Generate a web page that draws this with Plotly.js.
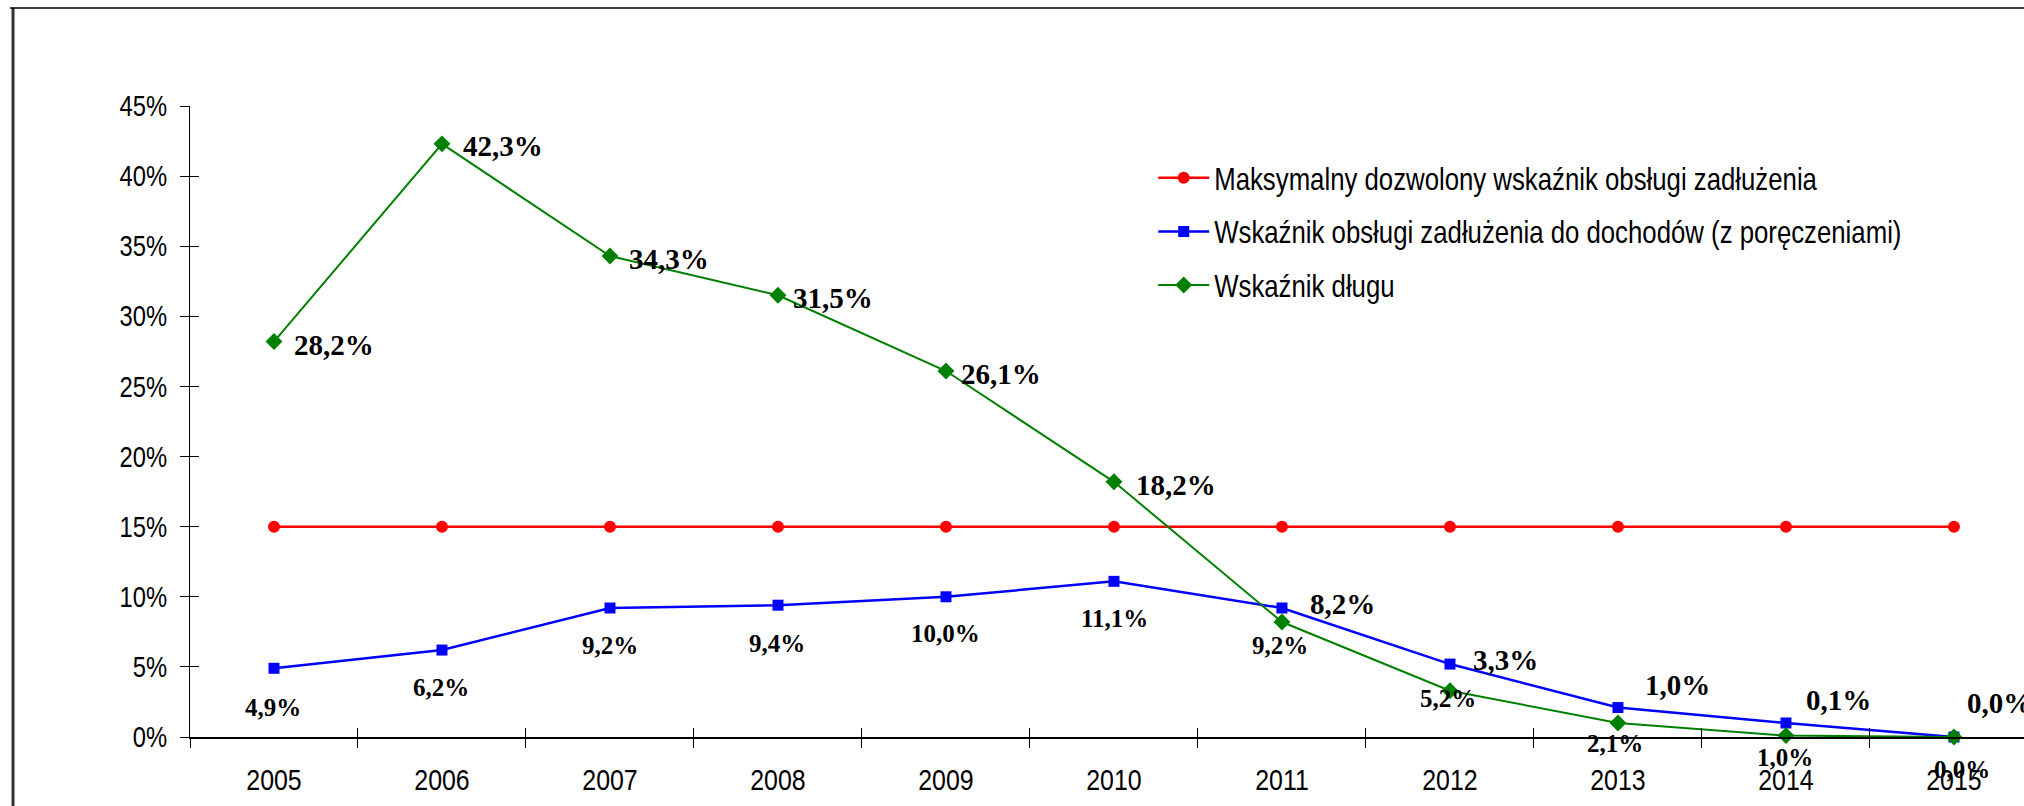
<!DOCTYPE html>
<html>
<head>
<meta charset="utf-8">
<script src="https://cdn.plot.ly/plotly-3.0.1.min.js"></script>
<style>html,body{margin:0;padding:0;background:#fff;}#chart{width:2024px;height:806px;}</style>
</head>
<body>
<div id="chart"></div>
<script>
// ---- data ----
const years = ['2005','2006','2007','2008','2009','2010','2011','2012','2013','2014','2015'];
const maxAllowed = [15,15,15,15,15,15,15,15,15,15,15];
const debtService = [4.9,6.2,9.2,9.4,10.0,11.1,9.2,5.2,2.1,1.0,0.0];
const debtRatio = [28.2,42.3,34.3,31.5,26.1,18.2,8.2,3.3,1.0,0.1,0.0];
const seriesNames = [
  'Maksymalny dozwolony wskaźnik obsługi zadłużenia',
  'Wskaźnik obsługi zadłużenia do dochodów (z poręczeniami)',
  'Wskaźnik długu'
];
const yTickVals = [0,5,10,15,20,25,30,35,40,45];
const yTickText = ['0%','5%','10%','15%','20%','25%','30%','35%','40%','45%'];

// ---- label placement (pixels, separate from data) ----
const greenDx = [18,19,17,13,13,20,26,21,25,18,11];
const greenDy = [3,2,3,3,3,3,-18,-31,-38,-36,-34];
const blueDx = [-1,-1,0,-1,0,1,-2,-2,-3,-1,8];
const blueDy = [39,37,37,38,37,37,37,34,36,35,32];

const fmt = v => v.toFixed(1).replace('.', ',') + '%';
const sans = "'Liberation Sans', Arial, sans-serif";
const serif = "'Liberation Serif', 'Times New Roman', serif";

const traces = [
  {x: years, y: maxAllowed, name: seriesNames[0], type: 'scatter', mode: 'lines+markers',
   line: {color: '#FF0000', width: 2.5}, marker: {symbol: 'circle', size: 12, color: '#FF0000'},
   cliponaxis: false, legendgroup: 'a'},
  {x: years, y: debtService, name: seriesNames[1], type: 'scatter', mode: 'lines+markers',
   line: {color: '#0000FF', width: 2.5}, marker: {symbol: 'square', size: 11, color: '#0000FF'},
   cliponaxis: false, legendgroup: 'b'},
  {x: years, y: debtRatio, name: seriesNames[2], type: 'scatter', mode: 'lines+markers',
   line: {color: '#008000', width: 2}, marker: {symbol: 'diamond', size: 13, color: '#008000'},
   cliponaxis: false, legendgroup: 'c'},
  {x: years, y: maxAllowed, xaxis: 'x2', yaxis: 'y2', type: 'scatter', mode: 'none',
   showlegend: false, hoverinfo: 'skip'}
];

const annotations = [];
years.forEach((yr, i) => {
  annotations.push({x: i, y: debtRatio[i], xref: 'x', yref: 'y', text: fmt(debtRatio[i]),
    showarrow: false, xanchor: 'left', yanchor: 'middle', xshift: greenDx[i], yshift: -greenDy[i],
    font: {family: serif, size: 29, color: '#000', weight: 'bold'}});
  annotations.push({x: i, y: debtService[i], xref: 'x', yref: 'y', text: fmt(debtService[i]),
    showarrow: false, xanchor: 'center', yanchor: 'middle', xshift: blueDx[i], yshift: -blueDy[i],
    font: {family: serif, size: 25, color: '#000', weight: 'bold'}});
});

const xr = [-0.5, 10.417];
const layout = {
  width: 2024, height: 806,
  margin: {l: 190, r: 0, t: 106, b: 69, pad: 0, autoexpand: false},
  paper_bgcolor: '#fff', plot_bgcolor: '#fff',
  showlegend: true,
  legend: {x: 0.5252, y: 0.928, xanchor: 'left', yanchor: 'top', traceorder: 'grouped',
    tracegroupgap: 11, itemwidth: 51, bgcolor: 'rgba(0,0,0,0)',
    font: {family: sans, size: 30.5, color: '#000'}},
  xaxis: {type: 'category', range: xr, tickson: 'boundaries', ticks: 'outside', ticklen: 9,
    tickcolor: '#000', tickwidth: 1, showline: true, linecolor: '#000', linewidth: 1.5,
    showgrid: false, zeroline: false, ticklabelstandoff: 17,
    tickfont: {family: sans, size: 29, color: '#000'}},
  xaxis2: {type: 'category', range: xr, overlaying: 'x', anchor: 'y', tickson: 'boundaries',
    ticks: 'inside', ticklen: 9, tickcolor: '#000', tickwidth: 1, showticklabels: false,
    showline: false, showgrid: false, zeroline: false},
  yaxis: {range: [0, 45], tickvals: yTickVals, ticktext: yTickText, ticks: 'outside', ticklen: 9,
    tickcolor: '#000', tickwidth: 1, showline: true, linecolor: '#000', linewidth: 1,
    showgrid: false, zeroline: false, ticklabelstandoff: 7,
    tickfont: {family: sans, size: 29, color: '#000'}},
  yaxis2: {range: [0, 45], overlaying: 'y', anchor: 'x', tickvals: yTickVals, ticks: 'inside',
    ticklen: 9, tickcolor: '#000', tickwidth: 1, showticklabels: false, showline: false,
    showgrid: false, zeroline: false},
  annotations: annotations,
  shapes: [
    {type: 'line', xref: 'paper', yref: 'paper', x0: -0.0965, x1: -0.0965, y0: -0.2, y1: 1.1553,
     line: {color: '#333', width: 3}},
    {type: 'line', xref: 'paper', yref: 'paper', x0: -0.0981, x1: 1.05, y0: 1.1553, y1: 1.1553,
     line: {color: '#000', width: 1.3}}
  ]
};

// Narrow (Arial Narrow–like) look for axis and legend text: horizontal scale about each text anchor
function narrowText(gd, selector, k) {
  gd.querySelectorAll(selector).forEach(t => {
    const x = parseFloat(t.getAttribute('x') || '0');
    const tr = t.getAttribute('transform') || '';
    t.setAttribute('transform', tr + ' translate(' + x + ',0) scale(' + k + ',1) translate(' + (-x) + ',0)');
  });
}

Plotly.newPlot('chart', traces, layout, {displayModeBar: false, staticPlot: true})
  .then(gd => {
    narrowText(gd, '.xtick text', 0.86);
    narrowText(gd, '.ytick text', 0.82);
    narrowText(gd, '.legendtext', 0.845);
  });
</script>
</body>
</html>
